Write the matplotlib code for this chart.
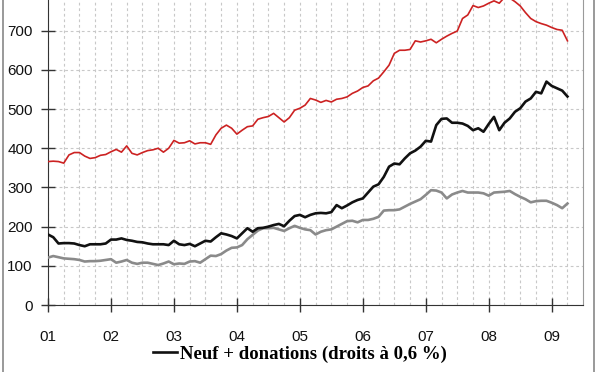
"""Prix des terrains : trois séries mensuelles 2001-2009 (figure statique)."""

import matplotlib.pyplot as plt
from matplotlib.lines import Line2D
from matplotlib.patches import Rectangle
from matplotlib.ticker import FixedLocator

# monthly values, Jan 2001 -> Apr 2009 (100 months)
red_series = [
    366, 367, 366, 362, 383, 389, 389, 380, 374, 376, 382, 384,
    391, 397, 390, 406, 387, 383, 389, 394, 396, 400, 390, 400,
    420, 413, 414, 419, 411, 414, 414, 410, 434, 451, 459, 451,
    436, 446, 455, 457, 474, 478, 481, 489, 478, 467, 478, 497,
    502, 510, 527, 523, 517, 522, 518, 525, 527, 531, 540, 546,
    555, 559, 572, 579, 595, 612, 642, 650, 650, 652, 674, 671,
    674, 678, 669, 678, 686, 693, 699, 731, 740, 764, 759, 763,
    770, 776, 770, 785, 783, 774, 763, 746, 731, 723, 718, 714,
    708, 703, 701, 674,
]
black_series = [
    180, 173, 157, 158, 158, 157, 153, 150, 155, 155, 155, 157,
    167, 167, 170, 166, 164, 161, 160, 157, 155, 155, 155, 153,
    164, 155, 153, 156, 150, 157, 164, 162, 173, 183, 180, 176,
    170, 183, 196, 187, 196, 197, 200, 204, 207, 201, 215, 227,
    230, 224, 230, 234, 235, 234, 237, 255, 247, 254, 262, 268,
    272, 287, 302, 308, 327, 353, 361, 359, 374, 387, 394, 404,
    419, 417, 459, 475, 476, 465, 465, 463, 457, 446, 451, 442,
    462, 480, 446, 465, 476, 493, 502, 519, 527, 544, 540, 570,
    559, 553, 547, 532,
]
grey_series = [
    121, 125, 122, 119, 118, 117, 115, 111, 112, 112, 113, 115,
    117, 108, 111, 115, 108, 105, 108, 108, 105, 102, 106, 111,
    104, 106, 105, 111, 112, 108, 117, 126, 125, 130, 139, 146,
    147, 153, 168, 179, 190, 196, 196, 197, 193, 189, 196, 202,
    197, 193, 191, 180, 187, 191, 193, 200, 207, 214, 215, 211,
    217, 217, 220, 225, 241, 242, 242, 244, 251, 258, 264, 270,
    281, 293, 292, 287, 272, 282, 287, 291, 287, 287, 287, 285,
    279, 287, 288, 289, 291, 283, 276, 270, 262, 265, 266, 266,
    261, 255, 247, 259,
]
year_labels = ["01", "02", "03", "04", "05", "06", "07", "08", "09"]
legend_label = "Neuf + donations (droits à 0,6 %)"

months = [2001 + i / 12 for i in range(len(red_series))]
years = list(range(2001, 2010))

fig = plt.figure(figsize=(6.0, 3.72), dpi=100)
# plot area runs a little past the top edge, as in the cropped original
ax = fig.add_axes([0.08, 0.18, 0.892, 0.843])

ax.plot(months, grey_series, color="#8a8a8a", lw=1.9, zorder=3)
ax.plot(months, black_series, color="#111111", lw=1.9, zorder=4)
ax.plot(months, red_series, color="#cc2222", lw=1.2, zorder=5)

ax.set_xlim(2001, 2009.5)
ax.set_ylim(0, 800)

ax.set_xticks(years)
ax.set_xticklabels(year_labels)
ax.xaxis.set_minor_locator(FixedLocator([2001 + q / 4 for q in range(1, 34)]))
ax.set_yticks(range(0, 800, 100))

ax.tick_params(axis="both", which="major", direction="inout", length=10,
               width=1, color="#333333", labelsize=11, labelcolor="#111111")
ax.tick_params(axis="x", which="major", pad=13)
ax.tick_params(axis="y", which="major", pad=6)
ax.tick_params(axis="x", which="minor", length=0)

for lab in ax.get_xticklabels() + ax.get_yticklabels():
    lab.set_fontfamily("Liberation Sans")

ax.grid(True, axis="x", which="both", color="#c8c8c8", lw=0.8, ls=(0, (2.5, 2.5)))
ax.grid(True, axis="y", which="major", color="#c8c8c8", lw=0.8, ls=(0, (2.5, 2.5)))
ax.set_axisbelow(True)

ax.spines["top"].set_visible(False)
ax.spines["left"].set_color("#333333")
ax.spines["bottom"].set_color("#333333")
ax.spines["right"].set_color("#9a9a9a")

handle = Line2D([], [], color="#111111", lw=1.9)
fig.legend(handles=[handle], labels=[legend_label], loc="center",
           bbox_to_anchor=(0.5, 1 - 354 / 372), frameon=False,
           handlelength=1.3, handletextpad=0.15, borderpad=0.1,
           prop={"family": "Liberation Serif", "weight": "bold", "size": 13.5})

# outer frame of the original picture (only its sides show)
fig.patches.append(Rectangle((3 / 600, -0.1), 591 / 600, 1.2, transform=fig.transFigure,
                             fill=False, edgecolor="#888888", lw=1.2))

fig.savefig("out.png", dpi=100)
print("Saved out.png")
